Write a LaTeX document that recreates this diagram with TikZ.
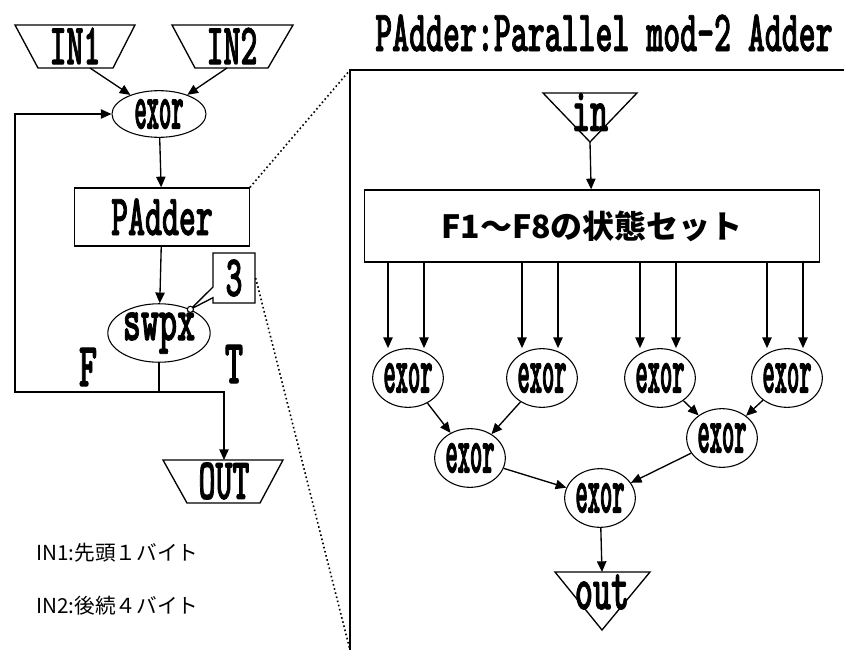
\documentclass[tikz,border=0pt]{standalone}
\usepackage{fontspec}
\newfontfamily\labfont[FakeStretch=0.55,FakeBold=1.2]{lmmonolt10-bold.otf}
\newfontfamily\exfont[FakeStretch=0.35,FakeBold=1.2]{lmmonolt10-bold.otf}
\newfontfamily\jpfont{Noto Sans CJK JP}
\usetikzlibrary{shapes.geometric,shapes.callouts,arrows.meta}

\tikzset{
  arr/.style={-{Triangle[length=8pt,width=7pt]}, line width=1pt},
  lab/.style={inner sep=0.75pt, font=\labfont\fontsize{44}{44}\selectfont},
  big/.style={inner sep=0.75pt, font=\labfont\fontsize{47}{47}\selectfont},
  exn/.style={ellipse, draw, line width=0.8pt, inner sep=0pt, minimum width=53pt, minimum height=44pt, font=\exfont\fontsize{50}{50}\selectfont},
  blk/.style={draw, line width=1pt, inner sep=0pt},
  note/.style={anchor=west, inner sep=0.75pt, font=\jpfont\fontsize{15.5}{15.5}\selectfont},
}

\begin{document}
\begin{tikzpicture}[x=0.75pt,y=0.75pt,yscale=-1,xscale=1]
\useasboundingbox (0,0) rectangle (844,650);

%Shape: Trapezoid IN1
\draw [line width=1pt] (15,25) -- (135,25) -- (113,68) -- (38,68) -- cycle ;
\coordinate (IN1b) at (90,68);
%Shape: Trapezoid IN2
\draw [line width=1pt] (172,25) -- (293,25) -- (268,68) -- (195,68) -- cycle ;
\coordinate (IN2b) at (227,68);
%Shape: Trapezoid OUT
\draw [line width=1pt] (163,460) -- (283,460) -- (260,503) -- (187,503) -- cycle ;
\coordinate (OUTt) at (224,460);

% Text Node
\draw (75,46) node [lab] (IN1) {IN1};
% Text Node
\draw (232,46) node [lab] (IN2) {IN2};
% Text Node
\draw (224,481) node [lab] (OUT) {OUT};

%Shape: Ellipse
\draw (159,114) node [exn, minimum width=70.5pt, minimum height=35pt] (exor0) {exor};
%Shape: Rectangle
\draw (162,217) node [blk, lab, minimum width=131pt, minimum height=43.5pt] (PAdder) {PAdder};
%Shape: Ellipse
\draw (159,333) node [exn, big, minimum width=73.5pt, minimum height=43pt, inner sep=0pt] (swpx) {swpx};
%Shape: Callout
\draw (234,278) node [rectangle callout, blk, lab, minimum width=31.5pt, minimum height=37.5pt, callout absolute pointer={(swpx.37)}, callout pointer width=8pt] (cnt) {3};
\draw [fill=white, line width=0.8pt] (swpx.37) circle (2.3pt) ;

% Text Node
\draw (88,367) node [big] (F) {F};
% Text Node
\draw (234,364) node [big] (T) {T};

%Straight Lines
\coordinate (jn) at (159,392);
\coordinate (fb) at (15,392);
\draw [arr] (IN1b) -- (exor0) ;
\draw [arr] (IN2b) -- (exor0) ;
\draw [arr] (exor0) -- (PAdder) ;
\draw [arr] (PAdder) -- (swpx) ;
\draw [line width=1pt] (swpx) -- (jn) ;
\draw [arr] (jn) -- (fb) |- (exor0.west) ;
\draw [arr] (jn) -| (OUTt) ;

% Text Node
\draw (35,553) node [note] (n1) {IN1:先頭１バイト};
% Text Node
\draw (35,606) node [note] (n2) {IN2:後続４バイト};

%Straight Lines: zoom frame
\draw [line width=1.2pt] (350,650) -- (350,70) -- (844,70) ;
\draw [dotted, line width=1.2pt] (PAdder.north east) -- (350,70) ;
\draw [dotted, line width=1.2pt] (cnt.east) -- (350,650) ;

% Text Node
\draw (604,33) node [lab] (title) {PAdder:Parallel mod-2 Adder};

%Shape: Triangle in
\draw [line width=1pt] (543,93) -- (637,93) -- (590,142) -- cycle ;
\coordinate (inb) at (590,142);
\draw (590,112) node [big] (in) {in};
%Shape: Triangle out
\draw [line width=1pt] (555,572) -- (650,572) -- (602,630) -- cycle ;
\coordinate (outt) at (602,572);
\draw (602,592) node [big] (out) {out};

%Shape: Rectangle
\draw (592,226) node [blk, minimum width=341pt, minimum height=54pt, font=\jpfont\bfseries\fontsize{24}{24}\selectfont] (setbox) {F1～F8の状態セット};

%Shape: Ellipses
\draw (408,378) node [exn] (ex1) {exor};
\draw (542,378) node [exn] (ex2) {exor};
\draw (660,378) node [exn] (ex3) {exor};
\draw (787,378) node [exn] (ex4) {exor};
\draw (470,458) node [exn] (ex5) {exor};
\draw (722,438) node [exn] (ex6) {exor};
\draw (600,498) node [exn] (ex7) {exor};

%Straight Lines
\draw [arr] (inb) -- (setbox) ;
\foreach \e in {1,...,4} {
  \coordinate (a\e) at ([xshift=-15pt]ex\e.north);
  \coordinate (b\e) at ([xshift=12pt]ex\e.north);
  \draw [arr] (a\e |- setbox.south) -- (a\e) ;
  \draw [arr] (b\e |- setbox.south) -- (b\e) ;
}
\draw [arr] (ex1) -- (ex5) ;
\draw [arr] (ex2) -- (ex5) ;
\draw [arr] (ex3) -- (ex6) ;
\draw [arr] (ex4) -- (ex6) ;
\draw [arr] (ex5) -- (ex7) ;
\draw [arr] (ex6) -- (ex7) ;
\draw [arr] (ex7) -- (outt) ;

\end{tikzpicture}
\end{document}
